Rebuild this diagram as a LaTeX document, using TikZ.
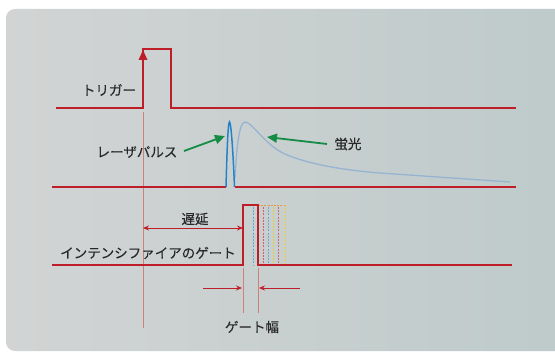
\documentclass[tikz,border=0pt]{standalone}
\usepackage{fontspec}
\setmainfont{Noto Sans CJK JP}[FakeBold=0.25]
\usetikzlibrary{arrows.meta}
\definecolor{sigred}{RGB}{190,30,40}
\definecolor{faintred}{RGB}{205,130,120}
\definecolor{laserblue}{RGB}{35,130,200}
\definecolor{fluoblue}{RGB}{150,180,210}
\definecolor{arrgreen}{RGB}{20,140,70}
\definecolor{txt}{RGB}{40,40,40}
\definecolor{bgl}{RGB}{210,212,212}
\definecolor{bgr}{RGB}{190,202,202}
\definecolor{gateyellow}{RGB}{235,200,60}
\definecolor{gateorange}{RGB}{230,150,60}
\tikzset{
  sig/.style={sigred, line width=1.6pt, line join=miter},
  faint/.style={faintred, line width=0.5pt},
  lbl/.style={txt, font=\fontsize{13.5}{13.5}\selectfont, inner sep=0pt},
  greenarrow/.style={arrgreen, line width=1.8pt, -{Triangle[length=10pt,width=9pt]}},
  redarrow/.style={sigred, line width=0.9pt},
  gd/.style={line width=0.8pt, dash pattern=on 2pt off 1.2pt}
}
\begin{document}
\begin{tikzpicture}[x=1pt,y=-1pt]
\useasboundingbox (0,0) rectangle (555,353);
\fill[white] (0,0) rectangle (555,353);
\shade[left color=bgl, right color=bgr, rounded corners=9pt] (6,9) rectangle (570,351);
% faint guide lines
\draw[faint] (143,112) -- (143,328);
\draw[faint] (243,268) -- (243,313);
\draw[faint] (258,268) -- (258,313);
% trigger
\draw[sig] (56,108) -- (143,108) -- (143,49) -- (171,49) -- (171,108) -- (516,108);
\fill[sigred] (143,50) -- (138.5,60) -- (147.5,60) -- cycle;
\node[lbl] (trig) at (109,90) {トリガー};
% laser + fluorescence
\draw[sig] (52,187) -- (226,187);
\draw[sig] (235,187) -- (516,187);
\draw[fluoblue, line width=1.3pt] (235,178) .. controls (237,140) and (240,122) .. (245,122)
  .. controls (252,122) and (265,145) .. (285,154)
  .. controls (305,163) and (340,170) .. (380,173) -- (510,182);
\draw[laserblue, line width=1.5pt] (226,187) .. controls (227,150) and (228,122) .. (229.5,122)
  .. controls (231,122) and (233,150) .. (234.5,187);
\node[lbl] (laser) at (137,152) {レーザパルス};
\node[lbl] (fluo) at (348,144) {蛍光};
\coordinate (lasertip) at (225,136);
\coordinate (fluotip) at (267,137);
\draw[greenarrow] (184,151) -- (lasertip);
\draw[greenarrow] (327,144) -- (fluotip);
% gate
\draw[gateorange, gd] (258,205) -- (285,205);
\draw[laserblue!70, gd] (253,207) -- (253,265);
\draw[sigred!70, gd] (263,207) -- (263,265);
\draw[laserblue!70, gd] (268,207) -- (268,265);
\draw[gateyellow, gd] (273,207) -- (273,265);
\draw[sigred!70, gd] (278,207) -- (278,265);
\draw[gateyellow, gd] (285,205) -- (285,265);
\draw[sig] (52,265) -- (243,265) -- (243,205) -- (258,205) -- (258,265) -- (512,265);
\node[lbl] (gate) at (148,253) {インテンシファイアのゲート};
% delay
\coordinate (dl) at (143,228);
\coordinate (dr) at (243,228);
\draw[redarrow, {Stealth[length=6pt,width=5pt]}-{Stealth[length=6pt,width=5pt]}] (dl) -- (dr);
\node[lbl] (delay) at (195,219) {遅延};
% gate width
\coordinate (wl0) at (203,288);
\coordinate (wl1) at (242,288);
\coordinate (wr0) at (300,288);
\coordinate (wr1) at (259,288);
\draw[redarrow, -{Stealth[length=6pt,width=5pt]}] (wl0) -- (wl1);
\draw[redarrow, -{Stealth[length=6pt,width=5pt]}] (wr0) -- (wr1);
\node[lbl] (gw) at (252,327) {ゲート幅};
\end{tikzpicture}
\end{document}
